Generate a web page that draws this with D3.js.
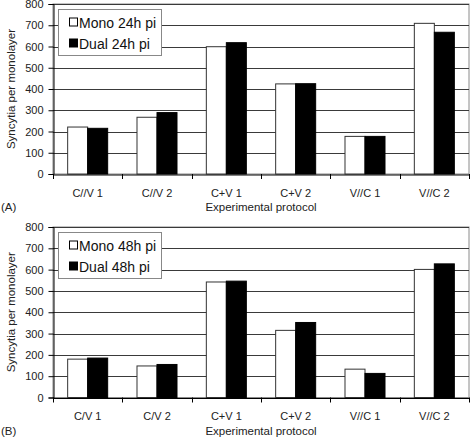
<!DOCTYPE html>
<html>
<head>
<meta charset="utf-8">
<script src="https://cdn.jsdelivr.net/npm/d3@7"></script>
<style>
body{margin:0;background:#fff;}
svg{display:block;font-family:"Liberation Sans",Arial,sans-serif;}
</style>
</head>
<body>
<svg id="chart" width="470" height="437"></svg>
<script>
const categoriesA = ["C//V 1","C//V 2","C+V 1","C+V 2","V//C 1","V//C 2"];
const categoriesB = ["C/V 1","C/V 2","C+V 1","C+V 2","V//C 1","V//C 2"];
const monoA = [221,267,599,424,177,709];
const dualA = [215,289,618,425,177,667];
const monoB = [180,148,542,315,133,601];
const dualB = [185,155,546,352,113,627];
const yTicks = [0,100,200,300,400,500,600,700,800];
const legendA = ["Mono 24h pi","Dual 24h pi"];
const legendB = ["Mono 48h pi","Dual 48h pi"];

const svg = d3.select("#chart");

function panel(cfg){
  const {top,bottom,left,right,cats,mono,dual,legend,tag,legTop,labPad} = cfg;
  const g = svg.append("g");
  const y = d3.scaleLinear().domain([0,800]).range([bottom,top]);
  const x0 = d3.scaleBand().domain(cats).range([left,right]).paddingInner(0.423).paddingOuter(0.2115);
  const x1 = d3.scaleBand().domain(["mono","dual"]).range([0,x0.bandwidth()]);
  // frame
  g.append("rect").attr("x",left).attr("y",top).attr("width",right-left).attr("height",bottom-top)
    .attr("fill","none").attr("stroke","#8a8a8a").attr("stroke-width",1);
  // gridlines
  g.selectAll(".grid").data(yTicks.slice(1)).join("line")
    .attr("x1",left).attr("x2",right)
    .attr("y1",d=>Math.round(y(d))+0.5).attr("y2",d=>Math.round(y(d))+0.5)
    .attr("stroke","#3a3a3a").attr("stroke-width",1);
  // bars
  const data = cats.map((c,i)=>({c,mono:mono[i],dual:dual[i]}));
  const grp = g.selectAll(".grp").data(data).join("g").attr("transform",d=>`translate(${x0(d.c)},0)`);
  grp.append("rect").attr("x",x1("mono")).attr("width",x1.bandwidth())
    .attr("y",d=>y(d.mono)).attr("height",d=>y(0)-y(d.mono))
    .attr("fill","#fff").attr("stroke","#333").attr("stroke-width",1);
  grp.append("rect").attr("x",x1("dual")).attr("width",x1.bandwidth())
    .attr("y",d=>y(d.dual)).attr("height",d=>y(0)-y(d.dual))
    .attr("fill","#000").attr("stroke","#000").attr("stroke-width",1);
  // y axis
  const ya = g.append("g").attr("transform",`translate(${left+0.5},0)`)
    .call(d3.axisLeft(y).tickValues(yTicks).tickSize(5).tickPadding(5));
  ya.select(".domain").attr("stroke","#000");
  ya.selectAll("text").attr("font-size","11px").attr("fill","#222").attr("font-family","Liberation Sans, Arial, sans-serif");
  // x axis
  const xa = g.append("g").attr("transform",`translate(0,${bottom+0.5})`)
    .call(d3.axisBottom(x0).tickSize(0).tickPadding(labPad));
  xa.select(".domain").attr("stroke","#000");
  xa.selectAll("text").attr("font-size","11px").attr("fill","#222").attr("font-family","Liberation Sans, Arial, sans-serif");
  const step = x0.step();
  const bounds = d3.range(cats.length+1).map(i=>left+i*step);
  g.selectAll(".xt").data(bounds).join("line")
    .attr("x1",d=>Math.round(d)+0.5).attr("x2",d=>Math.round(d)+0.5)
    .attr("y1",bottom).attr("y2",bottom+5).attr("stroke","#000");
  // y title
  g.append("text").attr("transform",`translate(15,${(top+bottom)/2}) rotate(-90)`)
    .attr("text-anchor","middle").attr("font-size","11.5px").attr("fill","#222")
    .text("Syncytia per monolayer");
  // x title
  g.append("text").attr("x",(left+right)/2).attr("y",bottom+37)
    .attr("text-anchor","middle").attr("font-size","11.5px").attr("fill","#222")
    .text("Experimental protocol");
  // tag
  g.append("text").attr("x",1).attr("y",bottom+37).attr("font-size","11.5px").attr("fill","#222").text(tag);
  // legend
  const lx = 58, lw = 103, lh = 46;
  g.append("rect").attr("x",lx+0.5).attr("y",legTop+0.5).attr("width",lw).attr("height",lh)
    .attr("fill","#fff").attr("stroke","#888");
  legend.forEach((t,i)=>{
    const cy = legTop + 13.5 + i*21;
    g.append("rect").attr("x",lx+11.5).attr("y",cy-4.5).attr("width",8).attr("height",8)
      .attr("fill",i===0?"#fff":"#000").attr("stroke","#000");
    g.append("text").attr("x",lx+21).attr("y",cy+5).attr("font-size","14px").attr("fill","#111").text(t);
  });
}

panel({top:4,bottom:174,left:53,right:469,cats:categoriesA,mono:monoA,dual:dualA,legend:legendA,tag:"(A)",legTop:9,labPad:15});
panel({top:227,bottom:397.5,left:53,right:469,cats:categoriesB,mono:monoB,dual:dualB,legend:legendB,tag:"(B)",legTop:232,labPad:14});
</script>
</body>
</html>
